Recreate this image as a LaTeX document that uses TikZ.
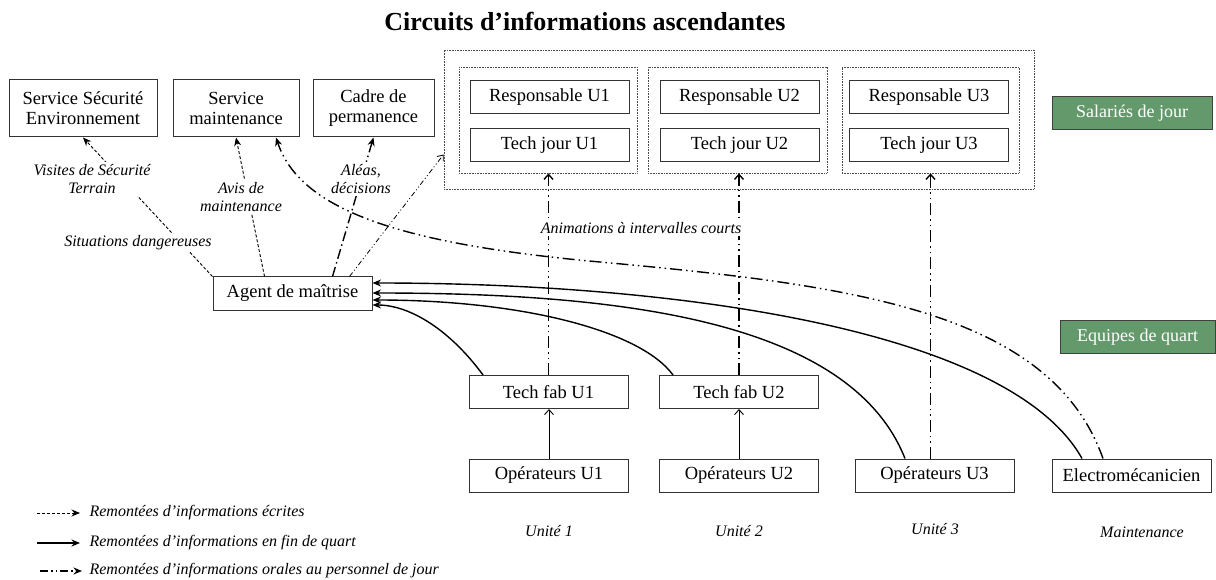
\documentclass[tikz,border=0pt]{standalone}
\usepackage{fontspec}
\setmainfont{Liberation Serif}
\usepackage{tikz}
\usetikzlibrary{arrows,arrows.meta,positioning}
\definecolor{quartgreen}{RGB}{100,153,108}
\tikzset{
  every picture/.style = {
    line width = 1.2pt,
    >={Stealth[length=8.5pt,width=7pt]},
  }
  ,
  box/.style = {
    rectangle,
    draw = black!80,
    line width = 1pt,
    font = \fontsize{18.5}{20}\selectfont,
    minimum width = 159pt,
    minimum height = 33pt,
    inner sep = 1pt,
    align = center
  }
  ,
  group/.style = {
    rectangle,
    draw = black!70,
    line width = 0.8pt,
    dash pattern = on 0.8pt off 0.8pt
  }
  ,
  tag/.style = {
    rectangle,
    draw = black!75,
    line width = 1pt,
    fill = quartgreen,
    text = white,
    font = \fontsize{18}{20}\selectfont,
    minimum width = 160pt,
    minimum height = 33pt
  }
  , % labels of edges
  label-edge/.style = {
    fill = white,
    font = \fontsize{16}{18}\itshape\selectfont,
    align = center,
    inner sep = 2pt
  }
  , % labels of units and legend
  label-unit/.style = {
    font = \fontsize{16}{18}\itshape\selectfont,
    inner sep = 1pt
  }
  ,
  written/.style = {->, line width = 0.9pt, dash pattern = on 3pt off 2pt},
  endshift/.style = {->, line width = 1.4pt},
  oral/.style = {->, line width = 1.4pt, dash pattern = on 12pt off 4pt on 1.5pt off 4pt on 1.5pt off 4pt},
  dashdot/.style = {->, line width = 1.4pt, dash pattern = on 10pt off 3.5pt on 1.5pt off 3.5pt},
  oral-up/.style = {-{Straight Barb[length=5pt,width=9pt]}, line width = 1.4pt,
    dash pattern = on 12pt off 4pt on 1.5pt off 4pt on 1.5pt off 4pt},
  thin-oral/.style = {-{Straight Barb[length=5pt,width=8pt]}, line width = 0.8pt,
    dash pattern = on 5pt off 2.5pt on 1pt off 2.5pt on 1pt off 2.5pt},
  thin-up/.style = {-{Straight Barb[length=5pt,width=9pt]}, line width = 0.9pt}
}
\begin{document}
\begin{tikzpicture}[x=1pt, y=-1pt]
\useasboundingbox (0,0) rectangle (1216,580);
\node[font=\fontsize{26}{30}\bfseries\selectfont] at (585,22) (title) {Circuits d’informations ascendantes};

% salaries de jour
\node[group, minimum width=590pt, minimum height=139pt] at (739,119.5) (jour) {};
\node[group, minimum width=178pt, minimum height=106pt] at (548,120) (unit1) {};
\node[group, minimum width=179pt, minimum height=106pt] at (737.5,120) (unit2) {};
\node[group, minimum width=177pt, minimum height=106pt] at (930.5,120) (unit3) {};
\node[box] at (549.5,97) (resp1) {Responsable U1};
\node[box] at (549.5,145.5) (tj1) {Tech jour U1};
\node[box] at (739.5,97) (resp2) {Responsable U2};
\node[box] at (739.5,145.5) (tj2) {Tech jour U2};
\node[box] at (929,97) (resp3) {Responsable U3};
\node[box] at (929,145.5) (tj3) {Tech jour U3};

\node[box, minimum width=148pt, minimum height=57pt] at (83,108.5) (secu) {Service Sécurité\\Environnement};
\node[box, minimum width=126pt, minimum height=57pt] at (236,108.5) (maint) {Service\\maintenance};
\node[box, minimum width=121pt, minimum height=57pt] at (373.5,108.5) (cadre) {Cadre de\\permanence};

\node[tag] at (1132,113.5) (jourtag) {Salariés de jour};
\node[tag, minimum width=155pt] at (1137.5,337) (quarttag) {Equipes de quart};

% equipes de quart
\node[box] at (292.5,293.5) (agent) {Agent de maîtrise};
\node[box] at (548.5,392) (fab1) {Tech fab U1};
\node[box] at (739,392) (fab2) {Tech fab U2};
\node[box] at (549,475.5) (op1) {Opérateurs U1};
\node[box] at (739,475.5) (op2) {Opérateurs U2};
\node[box] at (934.5,475.5) (op3) {Opérateurs U3};
\node[box] at (1131.5,475.5) (elec) {Electromécanicien};

% remontees ecrites
\draw[written] (agent.north west) -- (secu.south);
\draw[written] ([xshift=-28pt]agent.north) -- (maint.south);

% remontees orales
\draw[dashdot] ([xshift=40pt]agent.north) -- (cadre.south);
\draw[thin-oral] ([xshift=57pt]agent.north) -- ([yshift=-35pt]jour.west);
\draw[oral] ([xshift=-28.5pt]elec.north) .. controls (1050,310) and (850,285) .. (600,262)
  .. controls (400,244) and (300,210) .. ([xshift=40pt]maint.south);
\draw[oral-up] (fab1.north) -- (fab1.north |- unit1.south);
\draw[oral-up] (fab2.north) -- (fab2.north |- unit2.south);
\draw[oral-up] (unit3.south |- op3.north) -- (unit3.south);

% remontees en fin de quart
\draw[endshift] ([xshift=-49.5pt]elec.north) .. controls (1010,330) and (680,283) .. ([yshift=10.5pt]agent.east);
\draw[endshift] ([xshift=-29.5pt]op3.north) .. controls (850,320) and (620,293) .. ([yshift=0.5pt]agent.east);
\draw[endshift] ([xshift=-66pt]fab2.north) .. controls (640,330) and (520,300) .. ([yshift=-6.5pt]agent.east);
\draw[endshift] ([xshift=-65.5pt]fab1.north) .. controls (450,330) and (410,305) .. ([yshift=-11.5pt]agent.east);
\draw[thin-up] (op1.north) -- (op1.north |- fab1.south);
\draw[thin-up] (op2.north) -- (op2.north |- fab2.south);

\node[label-edge] at (92,179) (visites) {Visites de Sécurité\\Terrain};
\node[label-edge] at (138,243) (situations) {Situations dangereuses};
\node[label-edge] at (241,197) (avis) {Avis de\\maintenance};
\node[label-edge] at (361,179) (aleas) {Aléas,\\décisions};
\node[label-edge, inner xsep=8pt] at (641,228) (animations) {Animations à intervalles courts};

\node[label-unit] at (549,531) (u1) {Unité 1};
\node[label-unit] at (739,531) (u2) {Unité 2};
\node[label-unit] at (935,529) (u3) {Unité 3};
\node[label-unit] at (1142,532) (umaint) {Maintenance};

% legende
\coordinate (la1) at (37,513);
\coordinate (lb1) at (80,513);
\coordinate (la2) at (37,543);
\coordinate (lb2) at (80,543);
\coordinate (la3) at (40,571);
\coordinate (lb3) at (82,571);
\draw[written] (la1) -- (lb1);
\draw[endshift] (la2) -- (lb2);
\draw[->, line width=1.4pt, dash pattern=on 8pt off 3pt on 1.5pt off 3pt on 1.5pt off 3pt] (la3) -- (lb3);
\node[label-unit, anchor=west] at (88,513) (leg1) {Remontées d’informations écrites};
\node[label-unit, anchor=west] at (88,543) (leg2) {Remontées d’informations en fin de quart};
\node[label-unit, anchor=west] at (88,571) (leg3) {Remontées d’informations orales au personnel de jour};
\end{tikzpicture}
\end{document}
